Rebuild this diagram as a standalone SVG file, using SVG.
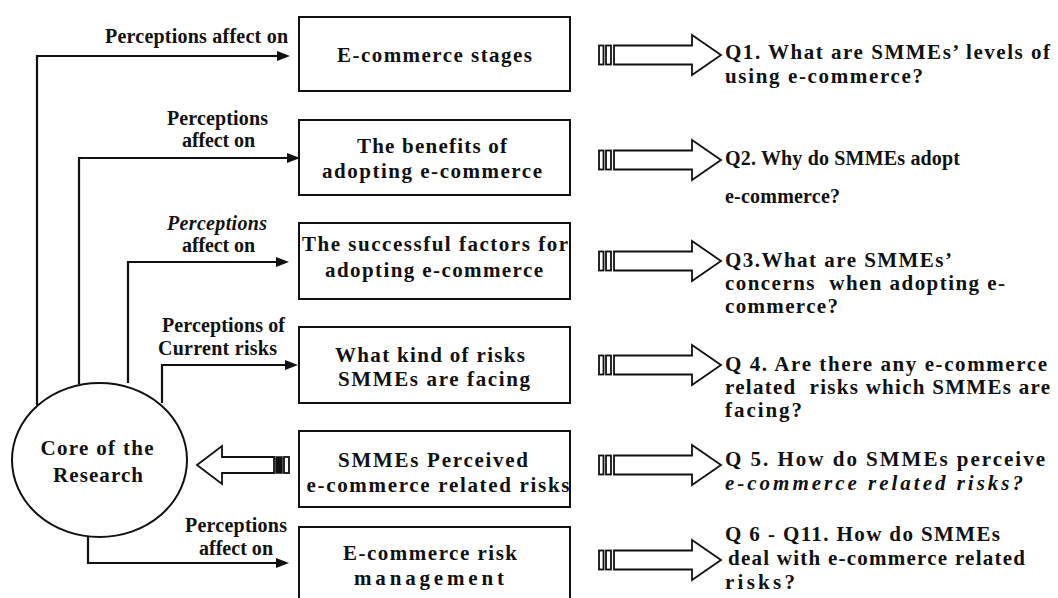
<svg xmlns="http://www.w3.org/2000/svg" width="1058" height="598" viewBox="0 0 1058 598">
  <style>
    .t { font-family: "Liberation Serif", "Times New Roman", serif; font-weight: bold; fill: #111; }
    .box { font-size: 21px; text-anchor: middle; }
    .lbl { font-size: 20px; }
    .q { font-size: 21px; }
    .q2 { font-size: 20px; }
    .it { font-style: italic; }
    .frame { fill: #fff; stroke: #111; stroke-width: 2; }
    .wire { fill: none; stroke: #111; stroke-width: 2.2; }
    .blk { fill: #fff; stroke: #111; stroke-width: 1.8; stroke-linejoin: miter; }
  </style>
  <defs>
    <marker id="ah" viewBox="0 0 13 10" refX="7" refY="5" markerWidth="13" markerHeight="10" orient="auto" markerUnits="userSpaceOnUse">
      <path d="M0,0 L13,5 L0,10 z" fill="#111"/>
    </marker>
    <!-- striped block arrow pointing right, tip at (0,0) -->
    <g id="sarrow">
      <rect x="-122" y="-9.5" width="4.5" height="19" class="blk"/>
      <rect x="-115" y="-9.5" width="5" height="19" class="blk"/>
      <path d="M-107,-9.5 H-29 V-20 L0,0 L-29,20 V9.5 H-107 Z" class="blk"/>
    </g>
  </defs>

  <rect width="1058" height="598" fill="#fff"/>

  <!-- connectors -->
  <g id="connectors">
    <path class="wire" d="M37,405 V56 H284" marker-end="url(#ah)"/>
    <path class="wire" d="M79,384 V158 H294" marker-end="url(#ah)"/>
    <path class="wire" d="M128,383 V262 H283" marker-end="url(#ah)"/>
    <path class="wire" d="M162,403 V365 H292" marker-end="url(#ah)"/>
    <path class="wire" d="M88,537 V563 H283" marker-end="url(#ah)"/>

    <!-- feedback arrow from perceived risks back to the core -->
    <path class="blk" d="M274,457 H222 V446 L197,465 L222,484 V473 H274 Z"/>
    <rect x="276" y="457" width="6" height="16" fill="#111" stroke="#111" stroke-width="1.5"/>
    <rect x="284" y="457" width="5" height="16" class="blk"/>

    <!-- arrows to research questions -->
    <use href="#sarrow" x="721" y="55"/>
    <use href="#sarrow" x="721" y="160"/>
    <use href="#sarrow" x="721" y="261"/>
    <use href="#sarrow" x="721" y="365"/>
    <use href="#sarrow" x="721" y="465"/>
    <use href="#sarrow" x="721" y="560"/>
  </g>

  <!-- edge labels -->
  <g id="labels" class="t lbl">
    <text x="105" y="43" textLength="183" lengthAdjust="spacing">Perceptions affect on</text>
    <text x="167" y="125" textLength="101" lengthAdjust="spacing">Perceptions</text>
    <text x="182" y="147" textLength="73" lengthAdjust="spacing">affect on</text>
    <text x="167" y="230" textLength="100" lengthAdjust="spacing" class="it">Perceptions</text>
    <text x="182" y="252" textLength="73" lengthAdjust="spacing">affect on</text>
    <text x="162" y="332" textLength="123" lengthAdjust="spacing">Perceptions of</text>
    <text x="158" y="355" textLength="119" lengthAdjust="spacing">Current risks</text>
    <text x="185" y="532" textLength="102" lengthAdjust="spacing">Perceptions</text>
    <text x="199" y="555" textLength="74" lengthAdjust="spacing">affect on</text>
  </g>

  <!-- core node -->
  <g id="core">
    <ellipse cx="99.5" cy="460" rx="87.5" ry="77" class="frame"/>
    <text class="t box" x="97" y="455" textLength="113" lengthAdjust="spacing">Core of the</text>
    <text class="t box" x="98" y="482" textLength="90" lengthAdjust="spacing">Research</text>
  </g>

  <!-- topic boxes -->
  <g id="stages">
    <rect x="299" y="17" width="271" height="74" class="frame"/>
    <text class="t box" x="434.5" y="62" textLength="195" lengthAdjust="spacing">E-commerce stages</text>
  </g>
  <g id="benefits">
    <rect x="299" y="120" width="271" height="75" class="frame"/>
    <text class="t box" x="432" y="153" textLength="150" lengthAdjust="spacing">The benefits of</text>
    <text class="t box" x="432" y="178" textLength="220" lengthAdjust="spacing">adopting e-commerce</text>
  </g>
  <g id="factors">
    <rect x="299" y="223" width="271" height="76" class="frame"/>
    <text class="t box" x="435" y="251" textLength="266" lengthAdjust="spacing">The successful factors for</text>
    <text class="t box" x="434" y="277" textLength="218" lengthAdjust="spacing">adopting e-commerce</text>
  </g>
  <g id="risks">
    <rect x="299" y="327" width="271" height="76" class="frame"/>
    <text class="t box" x="430" y="362" textLength="190" lengthAdjust="spacing">What kind of risks</text>
    <text class="t box" x="434" y="386" textLength="192" lengthAdjust="spacing">SMMEs are facing</text>
  </g>
  <g id="perceived">
    <rect x="299" y="431" width="271" height="76" class="frame"/>
    <text class="t box" x="433" y="467" textLength="190" lengthAdjust="spacing">SMMEs Perceived</text>
    <text class="t box" x="438" y="492" textLength="263" lengthAdjust="spacing">e-commerce related risks</text>
  </g>
  <g id="management">
    <rect x="299" y="527" width="271" height="80" class="frame"/>
    <text class="t box" x="430" y="560" textLength="174" lengthAdjust="spacing">E-commerce risk</text>
    <text class="t box" x="429" y="585" textLength="150" lengthAdjust="spacing">management</text>
  </g>

  <!-- research questions -->
  <g id="q1" class="t q">
    <text x="725" y="59" textLength="325" lengthAdjust="spacing">Q1. What are SMMEs’ levels of</text>
    <text x="725" y="83" textLength="198" lengthAdjust="spacing">using e-commerce?</text>
  </g>
  <g id="q2" class="t q2">
    <text x="725" y="165" textLength="235" lengthAdjust="spacing">Q2. Why do SMMEs adopt</text>
    <text x="725" y="203" textLength="115" lengthAdjust="spacing">e-commerce?</text>
  </g>
  <g id="q3" class="t q">
    <text x="725" y="267" textLength="227" lengthAdjust="spacing">Q3.What are SMMEs’</text>
    <text x="725" y="290" textLength="280" lengthAdjust="spacing" xml:space="preserve">concerns  when adopting e-</text>
    <text x="725" y="313" textLength="113" lengthAdjust="spacing">commerce?</text>
  </g>
  <g id="q4" class="t q">
    <text x="725" y="371" textLength="322" lengthAdjust="spacing">Q 4. Are there any e-commerce</text>
    <text x="725" y="394" textLength="325" lengthAdjust="spacing" xml:space="preserve">related  risks which SMMEs are</text>
    <text x="725" y="417" textLength="77" lengthAdjust="spacing">facing?</text>
  </g>
  <g id="q5" class="t q">
    <text x="725" y="466" textLength="320" lengthAdjust="spacing">Q 5. How do SMMEs perceive</text>
    <text x="725" y="490" textLength="298" lengthAdjust="spacing" class="it">e-commerce related risks?</text>
  </g>
  <g id="q6" class="t q">
    <text x="725" y="541" textLength="275" lengthAdjust="spacing">Q 6 - Q11. How do SMMEs</text>
    <text x="728" y="565" textLength="297" lengthAdjust="spacing">deal with e-commerce related</text>
    <text x="725" y="589" textLength="70" lengthAdjust="spacing">risks?</text>
  </g>
</svg>
